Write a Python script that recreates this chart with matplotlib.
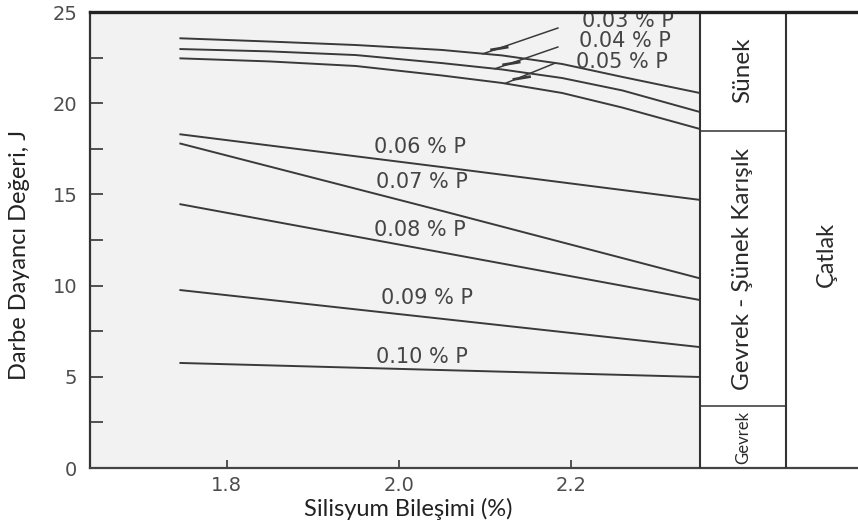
import matplotlib
matplotlib.use("Agg")
import matplotlib.pyplot as plt
from matplotlib.ticker import MultipleLocator

# ---- data ----
x_top = [1.745, 1.85, 1.95, 2.05, 2.12, 2.19, 2.26, 2.35]
p003 = [23.56, 23.38, 23.19, 22.92, 22.62, 22.15, 21.44, 20.56]
p004 = [22.97, 22.84, 22.64, 22.20, 21.85, 21.38, 20.70, 19.52]
p005 = [22.46, 22.29, 22.04, 21.52, 21.11, 20.56, 19.76, 18.59]

x_low = [1.745, 2.05, 2.35]
p006 = [18.30, 16.50, 14.70]
p007 = [17.80, 14.10, 10.40]
p008 = [14.47, 11.82, 9.21]
p009 = [9.76, 8.18, 6.63]
p010 = [5.76, 5.37, 4.99]

series_labels = ["0.03 % P", "0.04 % P", "0.05 % P", "0.06 % P",
                 "0.07 % P", "0.08 % P", "0.09 % P", "0.10 % P"]
x_ticks = [1.8, 2.0, 2.2]
x_ticklabels = ["1.8", "2.0", "2.2"]
y_ticks = [0, 5, 10, 15, 20, 25]
region_labels = ["Sünek", "Gevrek - Şünek Karışık", "Gevrek", "Çatlak"]
x_title = "Silisyum Bileşimi (%)"
y_title = "Darbe Dayancı Değeri, J"

# ---- figure ----
W, H = 858, 532
fig = plt.figure(figsize=(W / 100, H / 100), dpi=100)
fig.patch.set_facecolor("white")
ax = fig.add_axes([90 / W, 64 / H, (W - 90) / W, 456 / H])
ax.set_facecolor("#f2f2f2")
ax.set_xlim(1.641, 2.534)
ax.set_ylim(0, 25)

# white region for the fracture-mode boxes
ax.axvspan(2.35, 2.534, color="white", zorder=0.5)

lc = "#3a3a3a"
lw = 1.4
for ys in (p003, p004, p005):
    ax.plot(x_top, ys, color=lc, lw=lw, solid_capstyle="butt",
            solid_joinstyle="round", zorder=2)
for ys in (p006, p007, p008, p009, p010):
    ax.plot(x_low, ys, color=lc, lw=lw, solid_capstyle="butt", zorder=2)

# region boxes
bc = "#333333"
ax.plot([2.35, 2.35], [0, 25], color=bc, lw=1.5, zorder=3)
ax.plot([2.45, 2.45], [0, 25], color=bc, lw=1.5, zorder=3)
ax.plot([2.35, 2.45], [18.45, 18.45], color=bc, lw=1.1, zorder=3)
ax.plot([2.35, 2.45], [3.4, 3.4], color=bc, lw=1.1, zorder=3)

rfont = "Lato"
rcol = "#2a2a2a"
ax.text(2.40, 21.8, region_labels[0], rotation=90, ha="center", va="center",
        fontsize=17.5, family=rfont, color=rcol)
ax.text(2.40, 10.9, region_labels[1], rotation=90, ha="center", va="center",
        fontsize=17.5, family=rfont, color=rcol)
ax.text(2.40, 1.65, region_labels[2], rotation=90, ha="center", va="center",
        fontsize=12, family=rfont, color=rcol)
ax.text(2.497, 11.7, region_labels[3], rotation=90, ha="center", va="center",
        fontsize=17, family=rfont, color=rcol)

# series labels
tfont = "DejaVu Sans"
tcol = "#454545"
tsize = 15
lab_pos = [(2.267, 24.50), (2.263, 23.40), (2.260, 22.26),
           (2.025, 17.60), (2.027, 15.70), (2.024, 13.05),
           (2.033, 9.30), (2.027, 6.10)]
for (tx, ty), s in zip(lab_pos, series_labels):
    ax.text(tx, ty, s, ha="center", va="center", fontsize=tsize,
            family=tfont, color=tcol, clip_on=True, zorder=4)

# leader lines for the top three labels
leaders = [((2.185, 24.12), (2.098, 22.71)),
           ((2.185, 23.08), (2.112, 21.89)),
           ((2.182, 22.20), (2.124, 21.09))]
for (x0, y0), (x1, y1) in leaders:
    ax.plot([x0, x1], [y0, y1], color=lc, lw=1.1, zorder=2)
    # small hook near the curve end
    ax.plot([x1 + 0.010, x1 + 0.028], [y1 + 0.22, y1 + 0.36],
            color=lc, lw=2.0, zorder=2)

# spines
ax.spines["right"].set_visible(False)
ax.spines["top"].set_linewidth(2.4)
ax.spines["top"].set_color("#222222")
ax.spines["top"].set_zorder(5)
ax.spines["left"].set_linewidth(1.6)
ax.spines["left"].set_color("#333333")
ax.spines["bottom"].set_linewidth(1.6)
ax.spines["bottom"].set_color("#444444")

# ticks
ax.set_xticks(x_ticks)
ax.set_xticklabels(x_ticklabels)
ax.set_yticks(y_ticks)
ax.yaxis.set_minor_locator(MultipleLocator(2.5))
ax.tick_params(axis="y", which="both", direction="in", length=9, width=1.3,
               color="#444444", pad=9, labelsize=14, labelcolor="#4d4d4d")
ax.tick_params(axis="x", which="both", direction="in", length=6, width=1.3,
               color="#444444", pad=6, labelsize=14, labelcolor="#4d4d4d")
for lab in ax.get_xticklabels() + ax.get_yticklabels():
    lab.set_family("DejaVu Sans")

# axis titles
fig.text(408 / W, (H - 509) / H, x_title, ha="center", va="center",
         fontsize=17, family="Lato", color="#222222")
fig.text(20 / W, (H - 255) / H, y_title, ha="center", va="center",
         rotation=90, fontsize=17, family="Lato", color="#222222")

fig.savefig("out.png", dpi=100, facecolor="white")
